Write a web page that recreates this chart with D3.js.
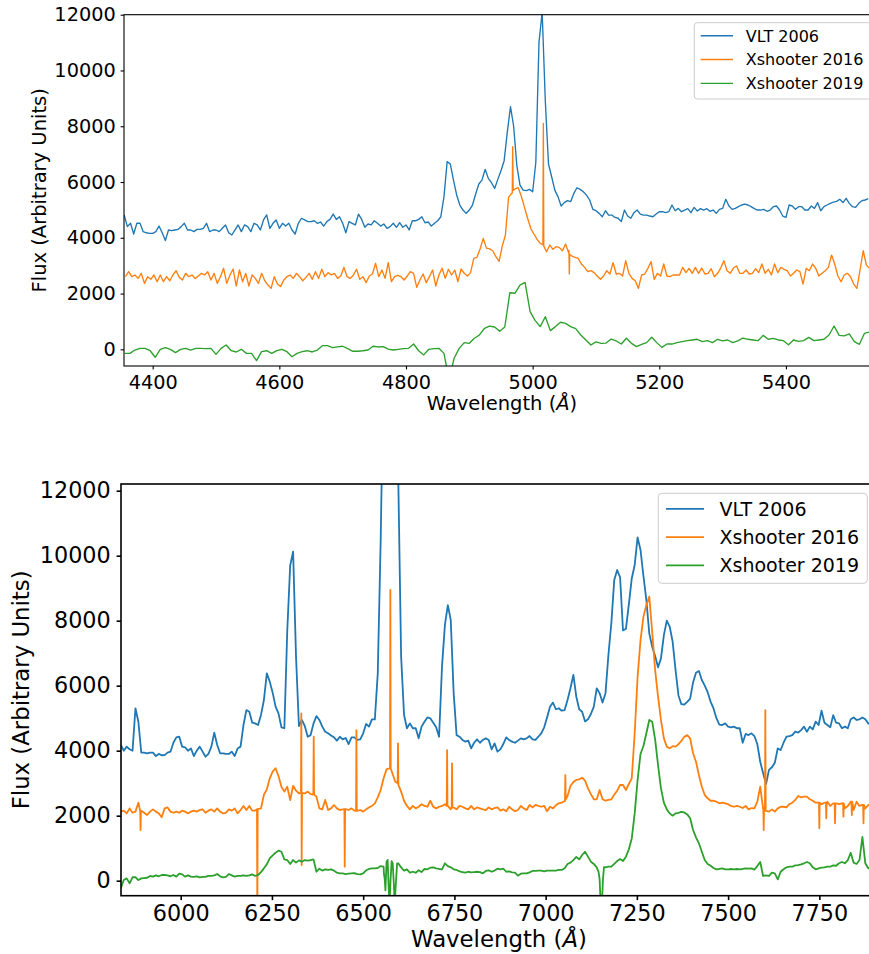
<!DOCTYPE html>
<html>
<head>
<meta charset="utf-8">
<script src="https://cdn.jsdelivr.net/npm/d3@7"></script>
<style>
  html, body { margin: 0; padding: 0; background: #ffffff; }
  svg { display: block; font-family: "DejaVu Sans", sans-serif; }
</style>
</head>
<body>
<svg id="fig" width="869" height="954"></svg>
<script>
// ---------------------------------------------------------------
// Series labels and colours
// ---------------------------------------------------------------
const seriesNames = ["VLT 2006", "Xshooter 2016", "Xshooter 2019"];
const seriesColors = ["#1f77b4", "#ff7f0e", "#2ca02c"];

const fluxTicks = [0, 2000, 4000, 6000, 8000, 10000, 12000];
const upperWaveTicks = [4400, 4600, 4800, 5000, 5200, 5400];
const lowerWaveTicks = [6000, 6250, 6500, 6750, 7000, 7250, 7500, 7750];

// ---------------------------------------------------------------
// Upper panel spectra (regular sampling: start wavelength + step, in Å)
// ---------------------------------------------------------------
const upperVltStart = 4355, upperVltStep = 5;
const upperVlt2006 = [
  4816, 4400, 4520, 4135, 4520, 4520, 4220, 4180, 4160, 4160, // 4355
  4220, 4420, 4180, 3900, 4280, 4255, 4280, 4300, 4400, 4520, // 4405
  4280, 4280, 4220, 4300, 4300, 4340, 4520, 4220, 4280, 4280, // 4455
  4220, 4340, 4460, 4180, 4100, 4280, 4460, 4220, 4460, 4400, // 4505
  4220, 4520, 4460, 4280, 4640, 4820, 4340, 4520, 4640, 4340, // 4555
  4520, 4420, 4520, 4280, 4135, 4520, 4700, 4640, 4580, 4580, // 4605
  4610, 4520, 4565, 4420, 4580, 4660, 4850, 4660, 4755, 4520, // 4655
  4180, 4580, 4520, 4460, 4850, 4660, 4375, 4495, 4460, 4610, // 4705
  4520, 4420, 4495, 4340, 4400, 4520, 4375, 4540, 4375, 4460, // 4755
  4280, 4610, 4610, 4660, 4755, 4540, 4565, 4420, 4520, 4610, // 4805
  4755, 5475, 6730, 6645, 6070, 5535, 5175, 4995, 4875, 4995, // 4855
  5175, 5570, 5930, 6070, 6455, 6130, 5975, 5770, 6095, 6405, // 4905
  6765, 7800, 8700, 8000, 6600, 5890, 5710, 5690, 5735, 5650, // 4955
  6700, 11000, 12100, 8900, 6645, 6190, 5710, 5475, 5140, 5260, // 5005
  5330, 5295, 5590, 5795, 5735, 5650, 5530, 5355, 5020, 4970, // 5055
  4875, 4755, 4970, 4815, 4815, 4730, 4700, 4580, 4995, 4780, // 5105
  4700, 4900, 4995, 4850, 4815, 4815, 4780, 4755, 4850, 4935, // 5155
  4935, 4900, 4935, 5175, 4970, 5055, 4935, 4995, 5045, 4900, // 5205
  5090, 4960, 5045, 4995, 5045, 4950, 4995, 4875, 5020, 5055, // 5255
  5380, 5140, 5020, 5055, 5115, 5175, 5210, 5175, 5115, 5045, // 5305
  4995, 4995, 5020, 4950, 4995, 5115, 5140, 4995, 4780, 4730, // 5355
  5175, 5140, 5020, 5115, 5115, 4995, 4995, 5140, 5055, 5260, // 5405
  4970, 5115, 5175, 5235, 5280, 5305, 5380, 5260, 5415, 5235, // 5455
  5115, 5090, 5235, 5330, 5355, 5400                          // 5505
];

const upperXs16Start = 4357, upperXs16Step = 5;
const upperXshooter2016 = [
  2605, 2785, 2605, 2665, 2545, 2725, 2365, 2605, 2510, 2665, // 4357
  2425, 2665, 2425, 2605, 2460, 2665, 2820, 2580, 2485, 2725, // 4407
  2605, 2665, 2535, 2630, 2725, 2665, 2785, 2485, 2725, 2365, // 4457
  2605, 2905, 2365, 2665, 2880, 2270, 2845, 2425, 2725, 2270, // 4507
  2665, 2545, 2365, 2725, 2460, 2305, 2185, 2605, 2340, 2250, // 4557
  2485, 2605, 2665, 2545, 2725, 2605, 2460, 2580, 2725, 2510, // 4607
  2785, 2545, 2870, 2605, 2750, 2665, 2725, 2545, 2630, 2940, // 4657
  2605, 2545, 2665, 2870, 2510, 2605, 2390, 2630, 2700, 3085, // 4707
  2605, 2845, 2545, 3110, 2425, 2605, 2655, 2605, 2485, 2630, // 4757
  2785, 2725, 2225, 2485, 2700, 2390, 2605, 2845, 2270, 2665, // 4807
  2905, 2545, 2870, 2665, 2845, 2425, 2880, 2725, 2630, 2750, // 4857
  3260, 3300, 3600, 3980, 3630, 3600, 3535, 3320, 3150, 3700, // 4907
  4100, 5450, 5600, 5750, 5800, 5500, 5100, 4700, 4340, 4135, // 4957
  3945, 3800, 3750, 3500, 3740, 3585, 3680, 3655, 3535, 3775, // 5007
  3450, 3345, 3300, 3260, 3060, 2940, 2785, 2820, 2750, 2630, // 5057
  2510, 2630, 2820, 2700, 3110, 2700, 2725, 2630, 3180, 2725, // 5107
  2545, 2460, 2185, 2665, 2700, 2905, 3145, 2510, 2725, 2630, // 5157
  3060, 2630, 2605, 2665, 2665, 2665, 2940, 2750, 2905, 2725, // 5207
  2940, 2725, 2915, 2700, 2725, 2890, 2605, 2725, 2915, 3180, // 5257
  2820, 2725, 2915, 2990, 2725, 2725, 2845, 2700, 2725, 2890, // 5307
  2750, 3060, 2725, 2870, 2665, 3060, 2750, 2940, 2870, 2820, // 5357
  2630, 2725, 2845, 2785, 2340, 2905, 2820, 3060, 2905, 2630, // 5407
  2725, 2820, 2940, 3380, 3060, 2630, 2425, 2665, 2725, 2605, // 5457
  2340, 2185, 2845, 3535, 3020, 2900                          // 5507
];
// narrow features sampled more finely: [wavelength, flux]
const upperXshooter2016Lines = [
  [[4967.8, 5600], [4968.5, 7265], [4969.2, 5700]],
  [[5016.2, 3750], [5016.9, 8100], [5017.6, 3700]],
  [[5057.3, 3550], [5057.9, 2700], [5058.6, 3400]]
];

const upperXs19Start = 4356, upperXs19Step = 8;
const upperXshooter2019 = [
  -145, -145, -25, 35, 35, -50, -285, 0, 60, 0,            // 4356
  -120, 0, 35, -25, 35, 35, 25, 35, -180, 35,              // 4436
  155, -50, -95, 0, -145, -145, -405, -85, -50, -145,      // 4516
  -50, 0, -85, -265, -145, -85, -50, -95, -25, 130,        // 4596
  130, 60, 85, 110, 25, -70, -70, -50, -25, 110,           // 4676
  85, 95, 10, -25, 0, 25, 35, 190, -50, -200,              // 4756
  0, 25, 35, -145, -1100, -320, 35, 240, 215, 395,         // 4836
  515, 755, 835, 800, 645, 800, 2030, 2010, 2300, 2400,    // 4916
  1350, 1030, 815, 1170, 670, 815, 970, 930, 815, 740,     // 4996
  515, 335, 155, 265, 215, 225, 370, 300, 190, 395,        // 5076
  215, 95, 180, 240, 430, 240, 70, 190, 190, 240,          // 5156
  275, 310, 335, 360, 275, 310, 240, 360, 300, 335,        // 5236
  240, 300, 405, 360, 335, 310, 500, 360, 395, 335,        // 5316
  310, 165, 335, 285, 310, 430, 310, 335, 360, 515,        // 5396
  835, 500, 480, 550, 275, 180, 575, 620                   // 5476
];

// ---------------------------------------------------------------
// Lower panel spectra (common sampling 5836 Å + 8 Å steps)
// ---------------------------------------------------------------
const lowerStart = 5836, lowerStep = 8;
const lowerVlt2006 = [
  4175, 4000, 4125, 4045, 4000, 5305, 4890, 3940, 3940, 3920, // 5836
  3940, 3940, 3835, 3900, 3860, 3865, 3940, 3970, 4245, 4410, // 5916
  4430, 4125, 4105, 4000, 4070, 3835, 4000, 4125, 3970, 3815, // 5996
  3900, 4125, 4555, 4175, 3920, 3920, 3900, 3900, 3970, 3835, // 6076
  4070, 4125, 4790, 5250, 5200, 4860, 4840, 4790, 5100, 5560, // 6156
  6380, 6125, 5785, 5355, 5150, 4720, 4690, 7700, 9700, 10125, // 6236
  6890, 4760, 4945, 4760, 4430, 4480, 4840, 5065, 4945, 4740, // 6316
  4585, 4535, 4470, 4410, 4310, 4430, 4350, 4390, 4205, 4410, // 6396
  4410, 4330, 4350, 4535, 4820, 4740, 4965, 4965, 6380, 10480, // 6476
  16000, 19000, 20000, 19000, 16000, 12500, 6900, 5100, 4690, 4840, // 6556
  4690, 4690, 4380, 4740, 4890, 5025, 4995, 4860, 4720, 4430, // 6636
  6585, 7870, 8480, 8020, 5765, 4480, 4430, 4330, 4280, 4310, // 6716
  4070, 4245, 4350, 4245, 4330, 4380, 4330, 4040, 4225, 3970, // 6796
  4040, 4205, 4410, 4330, 4280, 4245, 4310, 4380, 4350, 4380, // 6876
  4450, 4350, 4330, 4430, 4535, 4720, 5025, 5355, 5480, 5275, // 6956
  5305, 5230, 5250, 5560, 5920, 6330, 5660, 5275, 5200, 4900, // 7036
  4965, 5130, 5355, 5920, 5765, 5480, 5765, 6945, 7920, 9250, // 7116
  9560, 9335, 7700, 7750, 8500, 9300, 9715, 10565, 10175, 9375, // 7196
  8635, 7610, 7200, 6915, 6565, 6840, 7555, 8000, 7815, 7355, // 7276
  6480, 5700, 5430, 5420, 5500, 5600, 6100, 6400, 6450, 6175, // 7356
  6000, 5800, 5510, 5300, 5000, 4800, 4790, 4840, 4740, 4720, // 7436
  4740, 4690, 4690, 4245, 4515, 4480, 4535, 4450, 4205, 3660, // 7516
  3305, 2975, 3410, 3490, 3630, 4070, 4020, 4245, 4430, 4450, // 7596
  4480, 4585, 4555, 4635, 4740, 4585, 4740, 4655, 4895, 4790, // 7676
  5230, 4860, 4790, 4720, 5095, 4860, 4840, 4690, 4740, 4690, // 7756
  4965, 5025, 4945, 4965, 5025, 4965, 4840, 4800              // 7836
];

const lowerXshooter2016 = [
  2125, 2155, 2070, 2225, 2090, 2125, 2400, 2150, 2090, 2020, // 5836
  2125, 2195, 2125, 2070, 1950, 2225, 2255, 2125, 2090, 2125, // 5916
  2090, 2155, 2125, 2070, 2125, 2155, 2125, 2175, 2195, 2090, // 5996
  2155, 2195, 2125, 2225, 2125, 2070, 2090, 2195, 2155, 2225, // 6076
  2070, 2175, 2300, 2175, 2300, 2155, 2155, 2200, 2225, 2645, // 6156
  2810, 3150, 3355, 3460, 3220, 2890, 2740, 2890, 2480, 2920, // 6236
  2770, 2685, 2700, 2685, 2740, 2665, 2650, 2585, 2225, 2195, // 6316
  2485, 2175, 2225, 2330, 2225, 2175, 2195, 2200, 2175, 2225, // 6396
  2155, 2150, 2175, 2125, 2195, 2255, 2300, 2380, 2565, 2790, // 6476
  3150, 3425, 3460, 3305, 3045, 3000, 2740, 2460, 2300, 2195, // 6556
  2300, 2225, 2275, 2355, 2300, 2275, 2460, 2275, 2225, 2275, // 6636
  2300, 2355, 2300, 2195, 2250, 2195, 2300, 2275, 2225, 2195, // 6716
  2300, 2195, 2255, 2225, 2195, 2175, 2255, 2195, 2235, 2255, // 6796
  2155, 2195, 2135, 2275, 2195, 2135, 2175, 2300, 2225, 2175, // 6876
  2330, 2255, 2330, 2300, 2275, 2300, 2135, 2275, 2225, 2320, // 6956
  2380, 2400, 2450, 2605, 2915, 3035, 3100, 3120, 3170, 3080, // 7036
  2840, 2665, 2505, 2505, 2790, 2505, 2460, 2485, 2505, 2645, // 7116
  2770, 2945, 2945, 2790, 2975, 3150, 4535, 6280, 7405, 8125, // 7196
  8480, 8740, 7660, 6485, 5665, 4945, 4380, 4125, 4070, 4140, // 7276
  4125, 4200, 4300, 4430, 4480, 4380, 3920, 3660, 3250, 2890, // 7356
  2635, 2535, 2460, 2460, 2430, 2380, 2400, 2380, 2355, 2300, // 7436
  2275, 2300, 2275, 2235, 2300, 2195, 2235, 2225, 2430, 2895, // 7516
  2200, 2150, 2125, 2195, 2125, 2225, 2275, 2275, 2255, 2355, // 7596
  2400, 2485, 2605, 2565, 2585, 2585, 2505, 2460, 2400, 2400, // 7676
  2355, 2400, 2430, 2300, 2380, 2380, 2355, 2380, 2225, 2300, // 7756
  2430, 2175, 2430, 2300, 2330, 2225, 2330, 2300              // 7836
];
// sky and emission lines in the 2016 spectrum: [wavelength, flux]
const lowerXshooter2016Lines = [
  [[5889, 2150], [5890, 1560], [5891, 2150]],
  [[6209, 2200], [6210, -1200], [6211, 2200]],
  [[6329.5, 2700], [6330.5, 5150], [6331.5, 480], [6332.5, 2700]],
  [[6363.5, 2650], [6364.5, 4430], [6365.5, 2650]],
  [[6448.5, 2200], [6449.5, 430], [6450.5, 2200]],
  [[6480.5, 2150], [6481.5, 4635], [6482.5, 2150]],
  [[6573.5, 3450], [6574.5, 8945], [6575.5, 3450]],
  [[6594.5, 3000], [6595.5, 4225], [6596.5, 2950]],
  [[6729, 2300], [6730, 4020], [6731, 2300]],
  [[6742.5, 2250], [6743.5, 3610], [6744.5, 2250]],
  [[7053, 2450], [7054, 3250], [7055, 2500]],
  [[7596.5, 2250], [7597.5, 1560], [7598.5, 2200], [7601, 2200], [7602, 5250], [7603, 2150]],
  [[7749, 2400], [7750, 1610], [7751, 2400]],
  [[7768, 2400], [7769, 1920], [7770, 2400]],
  [[7792, 2380], [7793, 1765], [7794, 2380]],
  [[7815, 2380], [7816, 1970], [7817, 2380]],
  [[7838, 2430], [7839, 2020], [7840, 2430]],
  [[7870, 2330], [7871, 1765], [7872, 2330]]
];

const lowerXshooter2019 = [
  -235, 20, 70, -80, 105, 105, 20, 70, 80, 90,              // 5836
  145, 125, 165, 135, 175, 175, 165, 135, 175, 125,         // 5916
  215, 195, 125, 165, 125, 115, 135, 105, 115, 115,         // 5996
  145, 145, 165, 205, 135, 105, 115, 205, 165, 125,         // 6076
  145, 145, 165, 145, 165, 195, 145, 175, 265, 380,         // 6156
  505, 685, 780, 860, 925, 890, 655, 635, 515, 635,         // 6236
  555, 625, 585, 635, 615, 635, 655, 275, 370, 310,         // 6316
  350, 330, 350, 310, 245, 225, 225, 205, 215, 225,         // 6396
  235, 205, 195, 225, 320, 360, 380, 380, 390, 450,         // 6476
  430, 585, -700, 535, -450, 535, 410, 310, 350, 245,       // 6556
  275, 245, 320, 265, 360, 350, 400, 410, 380, 360,         // 6636
  350, 535, 450, 410, 350, 330, 285, 265, 245, 275,         // 6716
  255, 265, 275, 265, 225, 300, 320, 275, 310, 370,         // 6796
  350, 370, 275, 285, 255, 245, 155, 215, 225, 225,         // 6876
  255, 300, 300, 310, 310, 285, 310, 310, 310, 310,         // 6956
  330, 330, 380, 515, 555, 635, 730, 655, 790, 890,         // 7036
  740, 585, 515, 410, 175, -800, 410, 430, 430, 515,        // 7116
  605, 665, 605, 740, 965, 1300, 2070, 3100, 3900, 4145,    // 7196
  4535, 4945, 4890, 4350, 3560, 2840, 2400, 2195, 2070, 2000, // 7276
  2070, 2090, 2115, 2100, 2040, 1920, 1560, 1335, 1150, 890, // 7356
  635, 515, 460, 390, 350, 360, 380, 350, 350, 360,         // 7436
  350, 360, 350, 360, 380, 370, 380, 340, 450, 575,         // 7516
  145, 165, 145, 245, 225, 40, 275, 350, 410, 430,          // 7596
  430, 470, 480, 500, 535, 575, 535, 410, 350, 380,         // 7676
  400, 410, 430, 430, 470, 460, 535, 575, 535, 635,         // 7756
  860, 555, 515, 635, 1350, 535, 380, 420                   // 7836
];
// absorption structure in the 2019 spectrum: [wavelength, flux]
const lowerXshooter2019Lines = [
  [[6557, 200], [6559, 60], [6561, -300], [6564, 585], [6567, 640], [6570, -250],
   [6572.5, -700], [6575, 20], [6578, 600], [6581, 530], [6584, -100], [6586.5, -700],
   [6589, -200], [6593, 535]],
  [[7145, 270], [7148, 40], [7151, -800], [7154, -800], [7157, 40], [7160, 420]]
];

// ---------------------------------------------------------------
// Helpers
// ---------------------------------------------------------------
// Regular samples plus finely sampled features; inside a feature's span
// the fine samples replace the regular ones.
function buildSeries(start, step, values, features) {
  let pts = values.map((v, i) => [start + i * step, v]);
  (features || []).forEach(g => {
    const lo = g[0][0], hi = g[g.length - 1][0];
    pts = pts.filter(p => p[0] < lo || p[0] > hi).concat(g);
  });
  return pts.sort((a, b) => a[0] - b[0]);
}

const svg = d3.select("#fig");

function drawPanel(cfg) {
  const x = d3.scaleLinear().domain(cfg.xDomain).range([cfg.left, cfg.right]);
  const y = d3.scaleLinear().domain(cfg.yDomain).range([cfg.bottom, cfg.top]);
  const g = svg.append("g");

  const clipId = "clip-" + cfg.id;
  svg.append("defs").append("clipPath").attr("id", clipId)
    .append("rect")
    .attr("x", cfg.left).attr("y", cfg.top)
    .attr("width", cfg.right - cfg.left).attr("height", cfg.bottom - cfg.top);

  // spectra
  const line = d3.line().x(d => x(d[0])).y(d => y(d[1]));
  const plot = g.append("g").attr("clip-path", `url(#${clipId})`);
  cfg.series.forEach((s, i) => {
    plot.append("path")
      .attr("d", line(s))
      .attr("fill", "none")
      .attr("stroke", seriesColors[i])
      .attr("stroke-width", cfg.lineWidth)
      .attr("stroke-linejoin", "round")
      .attr("stroke-linecap", "butt");
  });

  // axes
  const xAxis = d3.axisBottom(x).tickValues(cfg.xTicks).tickFormat(d3.format("d"))
    .tickSize(cfg.tickLen).tickPadding(cfg.xTickPad);
  const yAxis = d3.axisLeft(y).tickValues(fluxTicks).tickFormat(d3.format("d"))
    .tickSize(cfg.tickLen).tickPadding(cfg.yTickPad);

  const gx = g.append("g").attr("transform", `translate(0,${cfg.bottom})`).call(xAxis);
  const gy = g.append("g").attr("transform", `translate(${cfg.left},0)`).call(yAxis);
  [gx, gy].forEach(a => {
    a.select(".domain").remove();
    a.selectAll(".tick line").attr("stroke", "#000").attr("stroke-width", cfg.spineWidth);
    a.selectAll(".tick text")
      .attr("fill", "#000")
      .style("font-family", "'DejaVu Sans', sans-serif")
      .style("font-size", cfg.tickFont + "px");
  });

  // frame
  g.append("rect")
    .attr("x", cfg.left).attr("y", cfg.top)
    .attr("width", cfg.right - cfg.left).attr("height", cfg.bottom - cfg.top)
    .attr("fill", "none").attr("stroke", "#000").attr("stroke-width", cfg.spineWidth);

  // axis titles
  const xl = g.append("text")
    .attr("x", (cfg.left + cfg.right) / 2).attr("y", cfg.xLabelY)
    .attr("text-anchor", "middle")
    .style("font-size", cfg.labelFont + "px").attr("fill", "#000");
  xl.append("tspan").text("Wavelength (");
  xl.append("tspan").style("font-style", "italic").text("Å");
  xl.append("tspan").text(")");

  g.append("text")
    .attr("transform", `translate(${cfg.yLabelX},${(cfg.top + cfg.bottom) / 2}) rotate(-90)`)
    .attr("text-anchor", "middle")
    .style("font-size", cfg.labelFont + "px").attr("fill", "#000")
    .text("Flux (Arbitrary Units)");

  // legend
  const L = cfg.legend;
  const lg = g.append("g");
  lg.append("rect")
    .attr("x", L.x).attr("y", L.y).attr("width", L.w).attr("height", L.h)
    .attr("rx", L.r).attr("ry", L.r)
    .attr("fill", "#ffffff").attr("fill-opacity", 0.8)
    .attr("stroke", "#cccccc").attr("stroke-width", 1);
  seriesNames.forEach((name, i) => {
    const cy = L.rowY[i];
    lg.append("line")
      .attr("x1", L.handleX0).attr("x2", L.handleX1)
      .attr("y1", cy).attr("y2", cy)
      .attr("stroke", seriesColors[i]).attr("stroke-width", cfg.lineWidth);
    lg.append("text")
      .attr("x", L.textX).attr("y", cy + L.baselineShift)
      .style("font-size", L.font + "px").attr("fill", "#000")
      .text(name);
  });
}

// ---------------------------------------------------------------
// Upper panel
// ---------------------------------------------------------------
drawPanel({
  id: "upper",
  left: 124, right: 880, top: 14.7, bottom: 366,
  xDomain: [4354.7, 5548.5], yDomain: [-598, 12000],
  xTicks: upperWaveTicks,
  series: [
    buildSeries(upperVltStart, upperVltStep, upperVlt2006),
    buildSeries(upperXs16Start, upperXs16Step, upperXshooter2016, upperXshooter2016Lines),
    buildSeries(upperXs19Start, upperXs19Step, upperXshooter2019)
  ],
  lineWidth: 1.35, spineWidth: 1.1, tickLen: 3.4,
  xTickPad: 5.4, yTickPad: 4.9, tickFont: 19.3, labelFont: 19.5,
  xLabelY: 410, yLabelX: 45.7,
  legend: {
    x: 694.3, y: 22.7, w: 177.4, h: 76.3, r: 3,
    handleX0: 700.7, handleX1: 733, textX: 745.8,
    rowY: [35.7, 59.5, 83.3], baselineShift: 5.8, font: 16
  }
});

// ---------------------------------------------------------------
// Lower panel
// ---------------------------------------------------------------
drawPanel({
  id: "lower",
  left: 121, right: 877, top: 484, bottom: 895.7,
  xDomain: [5836.4, 7908], yDomain: [-462, 12206],
  xTicks: lowerWaveTicks,
  series: [
    buildSeries(lowerStart, lowerStep, lowerVlt2006),
    buildSeries(lowerStart, lowerStep, lowerXshooter2016, lowerXshooter2016Lines),
    buildSeries(lowerStart, lowerStep, lowerXshooter2019, lowerXshooter2019Lines)
  ],
  lineWidth: 1.8, spineWidth: 1.6, tickLen: 4.4,
  xTickPad: 5.1, yTickPad: 5.9, tickFont: 22.3, labelFont: 22.8,
  xLabelY: 947, yLabelX: 29.3,
  legend: {
    x: 658.3, y: 493.3, w: 209, h: 90, r: 3.5,
    handleX0: 665.9, handleX1: 704, textX: 719.5,
    rowY: [508.8, 537.1, 565.4], baselineShift: 7, font: 19
  }
});
</script>
</body>
</html>
